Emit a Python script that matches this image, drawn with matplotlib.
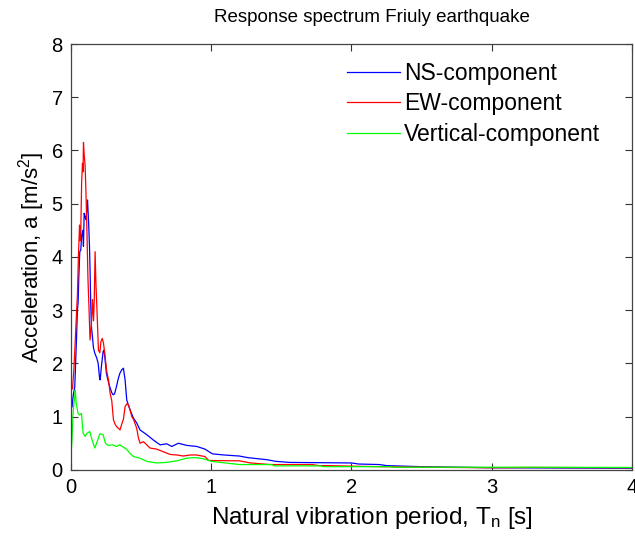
import matplotlib
matplotlib.use('Agg')
import matplotlib.pyplot as plt

plt.rcParams['font.family'] = ['Liberation Sans', 'DejaVu Sans']
plt.rcParams['mathtext.fontset'] = 'custom'
plt.rcParams['mathtext.rm'] = 'Liberation Sans'
plt.rcParams['mathtext.it'] = 'Liberation Sans'

# NS-component (period [s], acceleration [m/s2])
t_ns = [0.0, 0.007, 0.014, 0.026, 0.032, 0.038, 0.045, 0.05, 0.055, 0.062, 0.069, 0.075,
        0.083, 0.088, 0.093, 0.1, 0.107, 0.112, 0.117, 0.122, 0.126, 0.131, 0.135, 0.14,
        0.145, 0.152, 0.159, 0.169, 0.183, 0.193, 0.202, 0.207, 0.216, 0.228, 0.235, 0.24,
        0.252, 0.266, 0.276, 0.29, 0.3, 0.31, 0.323, 0.335, 0.347, 0.361, 0.373, 0.385,
        0.397, 0.42, 0.445, 0.468, 0.492, 0.54, 0.587, 0.635, 0.682, 0.718, 0.765, 0.825,
        0.896, 0.955, 0.99, 1.01, 1.09, 1.2, 1.26, 1.33, 1.4, 1.46, 1.56, 2.0, 2.05, 2.2,
        2.25, 2.5, 3.0, 4.0]
a_ns = [1.15, 1.19, 1.38, 1.56, 2.0, 2.44, 3.0, 3.15, 3.63, 4.1, 4.13, 4.4,
        4.5, 4.2, 4.82, 4.75, 4.7, 4.9, 5.07, 4.8, 4.57, 4.2, 3.76, 3.1,
        2.69, 2.5, 2.3, 2.19, 2.1, 2.0, 1.75, 1.69, 1.94, 2.22, 2.25, 2.13,
        1.81, 1.65, 1.56, 1.45, 1.41, 1.43, 1.56, 1.7, 1.81, 1.88, 1.91, 1.69,
        1.31, 1.13, 0.97, 0.88, 0.75, 0.66, 0.56, 0.47, 0.49, 0.44, 0.5, 0.46,
        0.44, 0.39, 0.33, 0.3, 0.28, 0.26, 0.23, 0.21, 0.19, 0.16, 0.14, 0.13, 0.11, 0.1,
        0.08, 0.06, 0.04, 0.03]

# EW-component
t_ew = [0.0, 0.01, 0.02, 0.036, 0.045, 0.052, 0.06, 0.065, 0.069, 0.075, 0.081, 0.085,
        0.088, 0.094, 0.1, 0.106, 0.112, 0.12, 0.128, 0.135, 0.145, 0.152, 0.16, 0.165,
        0.171, 0.177, 0.183, 0.19, 0.195, 0.205, 0.212, 0.222, 0.231, 0.24, 0.254, 0.266,
        0.278, 0.29, 0.302, 0.315, 0.326, 0.349, 0.361, 0.373, 0.385, 0.397, 0.409, 0.42,
        0.433, 0.445, 0.468, 0.48, 0.492, 0.516, 0.528, 0.54, 0.563, 0.61, 0.658, 0.706,
        0.754, 0.8, 0.85, 0.896, 0.955, 0.98, 1.0, 1.2, 1.28, 1.42, 1.63, 1.72, 1.77,
        1.83, 2.0, 2.2, 2.5, 3.0, 3.3, 4.0]
a_ew = [1.5, 1.53, 1.9, 2.8, 3.3, 4.0, 4.6, 4.3, 4.5, 5.4, 5.76, 5.6,
        6.15, 5.9, 5.7, 5.2, 4.57, 3.6, 3.0, 2.44, 2.75, 3.2, 2.8, 3.2,
        4.1, 3.5, 3.1, 2.6, 2.25, 2.2, 2.4, 2.47, 2.38, 2.19, 1.85, 1.7,
        1.44, 1.3, 0.94, 0.85, 0.81, 0.75, 0.86, 0.95, 1.19, 1.24, 1.22, 1.13,
        1.0, 0.95, 0.78, 0.6, 0.5, 0.53, 0.5, 0.47, 0.41, 0.39, 0.34, 0.29,
        0.28, 0.26, 0.28, 0.28, 0.25, 0.18, 0.175, 0.17, 0.13, 0.1, 0.1, 0.1, 0.08,
        0.08, 0.07, 0.06, 0.05, 0.04, 0.045, 0.04]

# Vertical component
t_v = [0.0, 0.005, 0.014, 0.02, 0.026, 0.03, 0.036, 0.05, 0.059, 0.074, 0.08, 0.086,
       0.1, 0.114, 0.133, 0.15, 0.169, 0.19, 0.205, 0.228, 0.245, 0.264, 0.3, 0.323,
       0.347, 0.37, 0.395, 0.42, 0.445, 0.49, 0.54, 0.61, 0.68, 0.754, 0.825, 0.88,
       0.92, 0.955, 1.0, 1.1, 1.2, 1.43, 1.45, 1.78, 1.8, 2.28, 2.3, 3.27, 4.0]
a_v = [0.35, 0.5, 1.06, 1.25, 1.38, 1.5, 1.25, 1.06, 1.03, 1.06, 0.85, 0.69,
       0.63, 0.69, 0.72, 0.56, 0.41, 0.56, 0.68, 0.66, 0.5, 0.46, 0.47, 0.44,
       0.47, 0.43, 0.39, 0.31, 0.25, 0.22, 0.16, 0.13, 0.14, 0.17, 0.22, 0.23,
       0.22, 0.2, 0.16, 0.13, 0.1, 0.1, 0.075, 0.075, 0.06, 0.06, 0.05, 0.05, 0.045]

fig = plt.figure(figsize=(6.35, 5.37), dpi=100)
ax = fig.add_axes([0.112, 0.125, 0.883, 0.793])

ax.plot(t_ns, a_ns, color='#0000ff', lw=0.9, label='NS-component')
ax.plot(t_ew, a_ew, color='#ff0000', lw=0.9, label='EW-component')
ax.plot(t_v, a_v, color='#00ff00', lw=0.9, label='Vertical-component')

ax.set_xlim(0, 4)
ax.set_ylim(0, 8)
ax.set_xticks([0, 1, 2, 3, 4])
ax.set_yticks(range(9))
ax.tick_params(direction='in', length=5, width=0.8, color='#333333',
               labelsize=14.5, top=True, right=True, pad=6)
for s in ax.spines.values():
    s.set_color('#444444')
    s.set_linewidth(0.9)

# title and x label sit a little right of the axes centre in the original
ax.set_title('Response spectrum Friuly earthquake', fontsize=13.5, x=0.537, pad=16)
ax.set_xlabel('Natural vibration period, T$_{\\mathrm{n}}$ [s]', fontsize=17.5)
ax.xaxis.set_label_coords(0.537, -0.082)
ax.xaxis.label.set_va('top')
ax.set_ylabel('Acceleration, a [m/s$^{2}$]', fontsize=16, labelpad=3)

ax.legend(loc='upper left', frameon=False, fontsize=16.5, handlelength=2.3,
          handletextpad=0.2, labelspacing=0.33, borderpad=0, borderaxespad=0,
          bbox_to_anchor=(0.492, 0.958))

plt.savefig('out.png', dpi=100)
